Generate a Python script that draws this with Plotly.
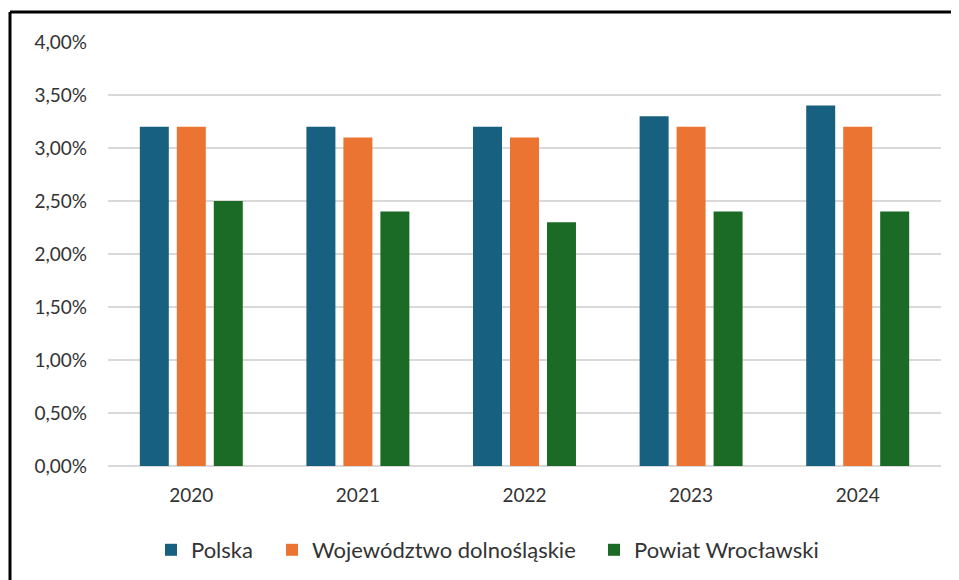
import plotly.graph_objects as go

years = ["2020", "2021", "2022", "2023", "2024"]
polska = [0.032, 0.032, 0.032, 0.033, 0.034]
dolnoslaskie = [0.032, 0.031, 0.031, 0.032, 0.032]
wroclawski = [0.025, 0.024, 0.023, 0.024, 0.024]

names = ["Polska", "Województwo dolnośląskie", "Powiat Wrocławski"]
colors = ["#17607f", "#ec7433", "#1b6b26"]
legend_ids = ["legend", "legend2", "legend3"]

fig = go.Figure()
for name, vals, col, lg in zip(names, [polska, dolnoslaskie, wroclawski], colors, legend_ids):
    fig.add_trace(go.Bar(x=years, y=vals, name=name, marker_color=col,
                         marker_line_width=0, legend=lg, showlegend=True))

# page body has an 8px margin, so the figure is offset by 8px
OFF = 8
W, H = 951, 572
L, R, T, B = 108 - OFF, 18, 42 - OFF, 572 - (466 - OFF)
pw, ph = W - L - R, H - T - B

def px(x):
    return (x - OFF - L) / pw

def py(y):
    return (H - B - (y - OFF)) / ph

fig.add_shape(type="line", xref="paper", yref="paper",
              x0=px(10), x1=px(10), y0=py(600), y1=py(12),
              line=dict(color="black", width=3))
fig.add_shape(type="line", xref="paper", yref="paper",
              x0=px(10), x1=px(990), y0=py(12), y1=py(12),
              line=dict(color="black", width=3))

SQ_OFFSET = 14
def leg(xsq):
    return dict(orientation="h", x=px(xsq - SQ_OFFSET), xanchor="left",
                y=py(550), yanchor="middle", font=dict(size=22),
                itemwidth=30, bgcolor="rgba(0,0,0,0)", visible=True)

fig.update_layout(
    width=W, height=H,
    showlegend=True,
    margin=dict(l=L, r=R, t=T, b=B, autoexpand=False),
    paper_bgcolor="white", plot_bgcolor="white",
    separators=",.",
    barmode="group", bargap=0.334, bargroupgap=0.216,
    font=dict(family="Lato, Open Sans, sans-serif", size=19, color="#333333"),
    legend=leg(165),
    legend2=leg(286),
    legend3=leg(608),
    xaxis=dict(showgrid=False, showline=False, ticks="", ticklabelstandoff=16),
    yaxis=dict(range=[0, 0.04], dtick=0.005, tickformat=".2%",
               showgrid=True, gridcolor="#d9d9d9", gridwidth=2,
               zeroline=True, zerolinecolor="#d9d9d9", zerolinewidth=2,
               ticklabelstandoff=20),
)

fig.write_html("out.html")
